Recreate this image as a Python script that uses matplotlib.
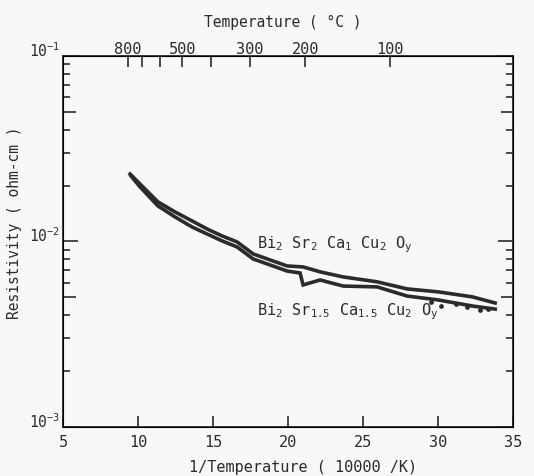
import numpy as np
import matplotlib
matplotlib.use('Agg')
import matplotlib.pyplot as plt

plt.rcParams['font.family'] = ['DejaVu Sans Mono']
plt.rcParams['mathtext.fontset'] = 'custom'
plt.rcParams['mathtext.rm'] = 'DejaVu Sans Mono'
plt.rcParams['mathtext.it'] = 'DejaVu Sans Mono'
plt.rcParams['mathtext.default'] = 'regular'

# Bi2 Sr2 Ca1 Cu2 Oy  (upper curve at low T)
x_a = [9.47, 10.13, 11.33, 12.47, 13.6, 14.6, 15.6, 16.6, 17.67, 18.8,
       19.93, 21.0, 22.13, 23.67, 25.93, 27.93, 30.0, 32.27, 33.8]
rho_a = [0.0231, 0.0204, 0.01633, 0.01442, 0.0129, 0.01168, 0.01071, 0.00994,
         0.00857, 0.00795, 0.00738, 0.00729, 0.00686, 0.00644, 0.00606,
         0.00555, 0.00535, 0.00503, 0.00466]

# Bi2 Sr1.5 Ca1.5 Cu2 Oy
x_b = [9.53, 10.13, 11.33, 12.47, 13.6, 14.6, 15.6, 16.6, 17.67, 18.8,
       19.93, 20.8, 21.0, 22.13, 23.67, 25.93, 27.93, 30.0, 32.27, 33.8]
rho_b = [0.02255, 0.01968, 0.01553, 0.01355, 0.01197, 0.01097, 0.01007,
         0.00934, 0.00805, 0.00747, 0.00693, 0.00676, 0.00583, 0.0062,
         0.00575, 0.00569, 0.00508, 0.00484, 0.00449, 0.00432]

# loose points at the low-T end of the Sr1.5 curve
x_b_pts = [29.5, 30.2, 31.2, 31.9, 32.8, 33.3]
rho_b_pts = [0.0047, 0.0045, 0.00462, 0.00445, 0.00428, 0.00435]

temp_c_ticks = [800, 700, 600, 500, 400, 300, 200, 100]
temp_c_labels = ['800', '', '', '500', '', '300', '200', '100']

fig = plt.figure(figsize=(5.34, 4.77), dpi=100, facecolor='#f8f8f6')
ax = fig.add_axes([0.118, 0.1027, 0.843, 0.778])
ax.set_facecolor('#f8f8f6')

ink = '#2b2b2b'
ax.plot(x_a, rho_a, color=ink, lw=2.6, solid_joinstyle='miter')
ax.plot(x_b, rho_b, color=ink, lw=2.6, solid_joinstyle='miter')
ax.plot(x_b_pts, rho_b_pts, ls='none', marker='o', ms=2.4, color=ink)

ax.set_yscale('log')
ax.set_xlim(5, 35)
ax.set_ylim(1e-3, 1e-1)

ax.set_xticks([5, 10, 15, 20, 25, 30, 35])
ax.set_xticklabels(['5', '10', '15', '20', '25', '30', '35'], fontsize=11)
ax.tick_params(axis='x', which='major', direction='in', length=8, width=1.2,
               pad=5, color=ink, labelcolor=ink)

ax.set_yticks([1e-3, 1e-2, 1e-1])
ax.set_yticklabels([r'$10^{-3}$', r'$10^{-2}$', r'$10^{-1}$'], fontsize=10.5,
                   va='baseline')
minor = [m * d for d in (1e-3, 1e-2) for m in range(2, 10)]
ax.set_yticks(minor, minor=True)
ax.set_yticklabels([], minor=True)
ax.tick_params(axis='y', which='major', direction='in', length=11, width=1.2,
               right=True, pad=2, color=ink, labelcolor=ink)
ax.tick_params(axis='y', which='minor', direction='in', length=5, width=1.2,
               right=True, color=ink)
for t in ax.yaxis.get_minor_ticks():
    if abs(np.log10(t.get_loc()) % 1 - np.log10(5)) < 0.01:
        t.tick1line.set_markersize(9)
        t.tick2line.set_markersize(9)

for s in ax.spines.values():
    s.set_color(ink)
    s.set_linewidth(1.3)

# top axis: temperature in Celsius
top = ax.twiny()
top.set_xlim(5, 35)
top.set_xticks([10000.0 / (t + 273.0) for t in temp_c_ticks])
top.set_xticklabels(temp_c_labels, fontsize=11)
top.tick_params(axis='x', direction='in', length=8, width=1.2, pad=0,
                color=ink, labelcolor=ink)

ax.text(17.93, 0.0097, r'Bi$_2$ Sr$_2$ Ca$_1$ Cu$_2$ O$_y$', fontsize=11,
        color=ink, va='center', ha='left')
ax.text(17.93, 0.00422, r'Bi$_2$ Sr$_{1.5}$ Ca$_{1.5}$ Cu$_2$ O$_y$', fontsize=11,
        color=ink, va='center', ha='left')

fig.text(303 / 534, 1 - 468 / 477, '1/Temperature ( 10000 /K)', fontsize=11,
         color=ink, ha='center', va='center')
fig.text(283 / 534, 1 - 22 / 477, 'Temperature ( °C )', fontsize=10.5,
         color=ink, ha='center', va='center')
fig.text(15 / 534, 1 - 223 / 477, 'Resistivity ( ohm-cm )', fontsize=10.5,
         color=ink, ha='center', va='center', rotation=90)

fig.savefig('out.png', dpi=100, facecolor=fig.get_facecolor())
